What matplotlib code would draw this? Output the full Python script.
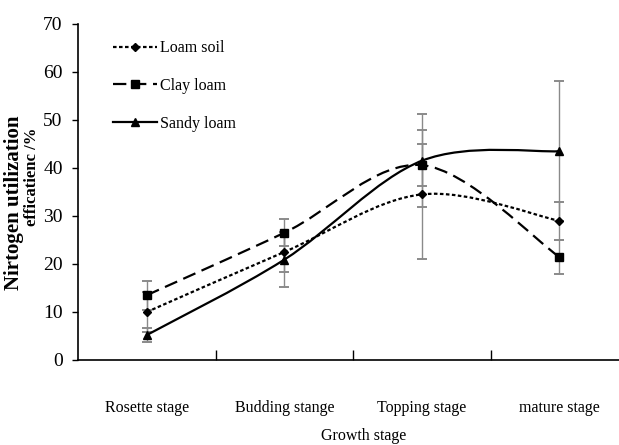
import numpy as np
import matplotlib
matplotlib.use("Agg")
import matplotlib.pyplot as plt
from matplotlib.path import Path
from matplotlib.patches import PathPatch
from matplotlib.lines import Line2D

plt.rcParams['font.family'] = ['Liberation Serif', 'DejaVu Serif']

stages = ['Rosette stage', 'Budding stange', 'Topping stage', 'mature stage']
loam_soil = [10.0, 22.5, 34.5, 29.0]
loam_soil_err = [4.2, 4.2, 13.5, 3.9]
clay_loam = [13.5, 26.5, 40.6, 21.5]
clay_loam_err = [3.0, 2.8, 4.4, 3.6]
sandy_loam = [5.2, 20.9, 41.5, 43.5]
sandy_loam_err = [1.4, 5.7, 9.7, 14.6]

W, H = 619, 445
fig = plt.figure(figsize=(W / 100, H / 100), dpi=100)
ax = fig.add_axes([78 / W, 85 / H, 550 / W, 336 / H])

x = np.arange(len(stages))


def smooth_path(xs, ys):
    # Excel-style smoothed line: cubic bezier segments with 1/6 tangents
    pts = np.column_stack([xs, ys]).astype(float)
    n = len(pts)
    verts = [pts[0]]
    codes = [Path.MOVETO]
    for i in range(n - 1):
        p0 = pts[max(i - 1, 0)]
        p1 = pts[i]
        p2 = pts[i + 1]
        p3 = pts[min(i + 2, n - 1)]
        c1 = p1 + (p2 - p0) / 6.0
        c2 = p2 - (p3 - p1) / 6.0
        verts += [c1, c2, p2]
        codes += [Path.CURVE4] * 3
    return Path(verts, codes)


series = [
    ('Loam soil', loam_soil, loam_soil_err, 'D', (0, (1.6, 1.1)), 4.5),
    ('Clay loam', clay_loam, clay_loam_err, 's', (0, (6, 3)), 5.5),
    ('Sandy loam', sandy_loam, sandy_loam_err, '^', '-', 6),
]

handles = []
for name, vals, errs, mk, ls, ms in series:
    eb = ax.errorbar(x, vals, yerr=errs, fmt='none', ecolor='#8a8a8a',
                     elinewidth=1.0, capsize=3.5, capthick=1.4, zorder=2)
    for cap in eb[1]:
        cap.set_color('#222222')
    patch = PathPatch(smooth_path(x, vals), facecolor='none', edgecolor='black',
                      linewidth=1.6, linestyle=ls, zorder=3)
    ax.add_patch(patch)
    ax.plot(x, vals, linestyle='none', marker=mk, markersize=ms,
            color='black', zorder=4)
    handles.append(Line2D([], [], color='black', linewidth=1.6, linestyle=ls,
                          marker=mk, markersize=ms))

ax.set_xlim(-0.5, 3.5)
ax.set_ylim(0, 70)
ax.set_yticks(np.arange(0, 71, 10))
ax.tick_params(axis='y', direction='out', length=4, width=1, pad=7,
               labelsize=14)

# category boundaries as ticks, labels centred on the categories
ax.set_xticks(np.arange(0.5, 3.5, 1.0))
ax.set_xticklabels([])
ax.tick_params(axis='x', which='major', direction='in', length=7, width=1)
ax.set_xticks(x, minor=True)
ax.set_xticklabels(stages, minor=True)
ax.tick_params(axis='x', which='minor', length=0, pad=29, labelsize=11.5)

for side in ('top', 'right'):
    ax.spines[side].set_visible(False)
for side in ('left', 'bottom'):
    ax.spines[side].set_linewidth(1.2)

ax.legend(handles, [s[0] for s in series], loc='upper left',
          bbox_to_anchor=(99 / W, 1 - 26 / H), bbox_transform=fig.transFigure,
          frameon=False, fontsize=11.5, handlelength=2.7, handletextpad=0.25,
          labelspacing=1.35, numpoints=1)

fig.text(364 / W, 1 - 436 / H, 'Growth stage', ha='center', va='center',
         fontsize=11.5)
fig.text(14 / W, 1 - 203 / H, 'Nirtogen utilization', rotation=90,
         ha='center', va='center', fontsize=15, fontweight='bold')
fig.text(32 / W, 1 - 177 / H, 'efficatienc /%', rotation=90,
         ha='center', va='center', fontsize=12, fontweight='bold')

fig.savefig('out.png', dpi=100)
